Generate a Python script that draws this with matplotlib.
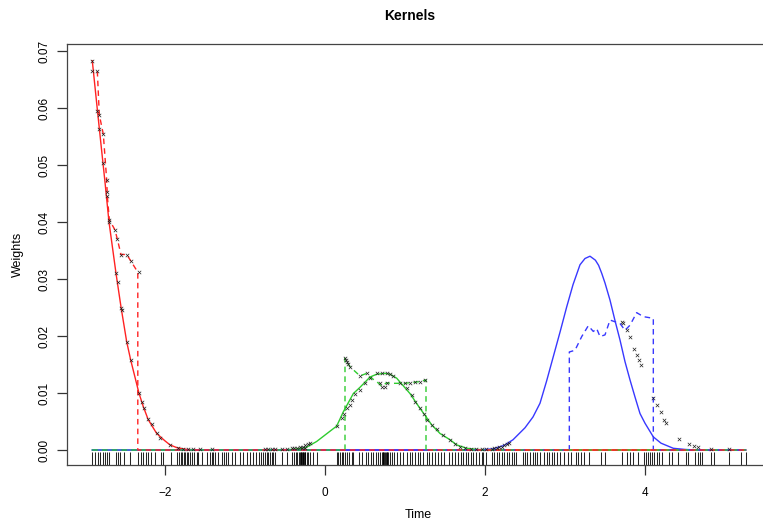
import matplotlib
matplotlib.use("Agg")
import matplotlib.pyplot as plt
import matplotlib.transforms as mtransforms

plt.rcParams['font.family'] = ['Liberation Sans', 'DejaVu Sans']

# ---------------- data ----------------
rug_x = [-2.909, -2.875, -2.841, -2.8125, -2.771, -2.75, -2.729, -2.7, -2.616, -2.591,
         -2.5625, -2.509, -2.4375, -2.334, -2.3, -2.271, -2.241, -2.209, -2.175, -2.125,
         -2.05, -2.021, -1.925, -1.854, -1.825, -1.8, -1.784, -1.766, -1.75, -1.729,
         -1.709, -1.684, -1.659, -1.634, -1.604, -1.584, -1.541, -1.479, -1.4375, -1.416,
         -1.396, -1.375, -1.334,
         -1.291, -1.2625, -1.2375, -1.209, -1.166, -1.125, -1.0625, -1.029, -0.979, -0.9375,
         -0.896, -0.8625, -0.821, -0.804, -0.779, -0.75, -0.729, -0.709, -0.6875, -0.666,
         -0.646, -0.625, -0.541, -0.479, -0.416, -0.3875, -0.3625, -0.346, -0.329, -0.3125,
         -0.305, -0.296, -0.288, -0.279, -0.27, -0.2625, -0.255, -0.246, -0.229, -0.209,
         -0.1875, -0.146, -0.104, 0.146, 0.166, 0.1875, 0.209, 0.229, 0.25, 0.271, 0.304,
         0.334, 0.354,
         0.425, 0.466, 0.509, 0.541, 0.575, 0.604, 0.634, 0.666, 0.6875, 0.709, 0.72,
         0.729, 0.74, 0.75, 0.76, 0.771, 0.78, 0.791, 0.8125, 0.834, 0.866, 0.896, 0.9375,
         0.979, 1.021, 1.0625, 1.091, 1.125, 1.159, 1.1875, 1.229, 1.271, 1.3, 1.341, 1.375,
         1.409, 1.45, 1.491, 1.55, 1.591, 1.625, 1.666, 1.7, 1.729, 1.759, 1.791, 1.825,
         1.854, 1.884, 1.925, 1.959, 1.979, 2.009,
         2.084, 2.1125, 2.146, 2.179, 2.209, 2.2375, 2.271, 2.304, 2.334, 2.3625, 2.3875,
         2.471, 2.5, 2.529, 2.5625, 2.596, 2.625, 2.654, 2.6875, 2.7375, 2.771, 2.804,
         2.834, 2.8625, 2.896, 2.9375, 2.9875, 3.041, 3.071, 3.1375, 3.166, 3.196, 3.2375,
         3.304, 3.446, 3.5, 3.709,
         3.771, 3.8125, 3.854, 3.909, 3.991, 4.009, 4.034, 4.0625, 4.091, 4.116, 4.146,
         4.175, 4.209, 4.3, 4.341, 4.409, 4.509, 4.534, 4.625, 4.659, 4.6875, 4.716, 4.825,
         4.866, 5.05, 5.2, 5.259]

# solid kernel curves
red_x = [-2.909, -2.85, -2.80, -2.75, -2.70, -2.6125, -2.55, -2.479, -2.429, -2.325,
         -2.271, -2.209, -2.104, -2.0, -1.9375, -1.85, -1.729, -1.6, 5.259]
red_y = [0.0683, 0.0603, 0.0536, 0.0470, 0.0400, 0.0310, 0.0251, 0.0190, 0.0158, 0.00995,
         0.0076, 0.0053, 0.0029, 0.0016, 0.0009, 0.0004, 0.0001, 0.0, 0.0]

green_x = [-2.909, -0.6, -0.416, -0.3, -0.229, -0.104, 0.146, 0.229, 0.354, 0.4375, 0.5625,
           0.646, 0.75, 0.8125, 0.896, 1.0625, 1.1875, 1.25, 1.334, 1.4375, 1.5625, 1.646,
           1.771, 1.9, 2.1, 5.259]
green_y = [0.0, 0.0, 0.0001, 0.0003, 0.0005, 0.0015, 0.0042, 0.0067, 0.0099, 0.0110, 0.0128,
           0.0133, 0.01345, 0.0133, 0.0126, 0.0099, 0.0073, 0.0061, 0.0044, 0.0029, 0.0018,
           0.0009, 0.0003, 0.0001, 0.0, 0.0]

blue_x = [-2.909, 1.9, 2.1, 2.2375, 2.35, 2.5, 2.6, 2.6875, 2.77, 2.854, 2.94, 3.021, 3.1,
          3.1875, 3.25, 3.3125, 3.38, 3.42, 3.459, 3.5, 3.5625, 3.625, 3.6875, 3.75,
          3.8125, 3.875, 3.9375, 4.0, 4.104, 4.2, 4.354, 4.5, 4.646, 5.259]
blue_y = [0.0, 0.0, 0.0002, 0.0008, 0.0018, 0.0039, 0.0058, 0.0082, 0.0121, 0.0164, 0.0208,
          0.0251, 0.0290, 0.0325, 0.0336, 0.0340, 0.0333, 0.0324, 0.0310, 0.0293, 0.0263,
          0.0227, 0.0193, 0.0155, 0.0123, 0.0093, 0.0064, 0.0047, 0.0023, 0.0012, 0.0003,
          0.0001, 0.0, 0.0]

# dashed (windowed) curves
red_d_x = [-2.846, -2.821, -2.771, -2.729, -2.721, -2.696, -2.625, -2.596, -2.55, -2.479,
           -2.429, -2.34, -2.34, 5.259]
red_d_y = [0.0665, 0.0588, 0.0554, 0.0474, 0.0446, 0.0404, 0.0386, 0.0370, 0.0343, 0.0343,
           0.0332, 0.0312, 0.0, 0.0]

green_d_x = [-2.909, 0.25, 0.25, 0.271, 0.3125, 0.4375, 0.521, 0.5625, 0.646, 0.709, 0.771,
             0.8125, 0.9375, 1.0, 1.0625, 1.125, 1.1875, 1.2625, 1.2625, 5.259]
green_d_y = [0.0, 0.0, 0.0161, 0.0155, 0.0146, 0.0130, 0.01345, 0.0128, 0.0120, 0.0112,
             0.0118, 0.0117, 0.0117, 0.0117, 0.0118, 0.0119, 0.0120, 0.0123, 0.0, 0.0]

blue_d_x = [-2.909, 3.054, 3.054, 3.125, 3.209, 3.291, 3.354, 3.396, 3.4375, 3.5, 3.5625,
            3.625, 3.6875, 3.75, 3.8125, 3.896, 3.979, 4.104, 4.104, 5.259]
blue_d_y = [0.0, 0.0, 0.0172, 0.0175, 0.0199, 0.0218, 0.0208, 0.0213, 0.0199, 0.0202,
            0.0228, 0.0225, 0.0222, 0.0210, 0.0219, 0.0241, 0.0234, 0.0231, 0.0, 0.0]

# black "x" points
pts_x = [-2.909, -2.909, -2.846, -2.846, -2.821, -2.821, -2.771, -2.771, -2.729, -2.729,
         -2.721, -2.696, -2.7, -2.625, -2.596, -2.6125, -2.591, -2.55, -2.479, -2.429,
         -2.325, -2.55, -2.54, -2.479, -2.429, -2.325, -2.291, -2.2625, -2.209, -2.166,
         -2.104, -2.0625, -1.9375, -1.834, -1.771, -1.709, -1.646, -1.5625, -1.416,
         -0.75, -0.709, -0.666, -0.625, -0.541, -0.479, -0.416, -0.3875, -0.346, -0.3125,
         -0.291, -0.279, -0.25, -0.246, -0.209, -0.1875,
         0.146, 0.209, 0.2375, 0.271, 0.3125, 0.334, 0.375, 0.4375, 0.5, 0.5625,
         0.25, 0.26, 0.271, 0.291, 0.3125, 0.4375, 0.521,
         0.646, 0.709, 0.771, 0.8125, 0.854, 0.6875, 0.709, 0.75, 0.779,
         0.9375, 1.0, 1.0625, 1.125, 1.1875, 1.25,
         1.021, 1.084, 1.125, 1.1875, 1.2375, 1.279, 1.334, 1.396, 1.479, 1.5625, 1.625,
         1.6875, 1.75, 1.825, 1.884, 1.959, 2.009,
         2.084, 2.1125, 2.146, 2.179, 2.209, 2.2375, 2.271, 2.304,
         3.709, 3.72, 3.771, 3.8125, 3.866, 3.896, 3.921, 3.946, 4.104, 4.146, 4.196,
         4.2375, 4.2625, 4.429, 4.554, 4.6125, 4.666, 4.825, 5.05]
pts_y = [0.0683, 0.0665, 0.0665, 0.0595, 0.0588, 0.0564, 0.0554, 0.0503, 0.0474, 0.0453,
         0.0446, 0.0404, 0.0400, 0.0386, 0.0370, 0.0310, 0.0294, 0.0343, 0.0343, 0.0332,
         0.0312, 0.0250, 0.0245, 0.0190, 0.0158, 0.00995, 0.0085, 0.0073, 0.0054, 0.0046,
         0.0029, 0.0021, 0.0009, 0.0003, 0.0001, 0.0001, 0.0001, 0.0001, 0.0001,
         0.0001, 0.0001, 0.0001, 0.0001, 0.0002, 0.0002, 0.0003, 0.0003, 0.0004, 0.0005,
         0.0003, 0.0006, 0.0004, 0.0008, 0.0010, 0.0012,
         0.0042, 0.0056, 0.0064, 0.0073, 0.0079, 0.0088, 0.0099, 0.0106, 0.0117, 0.0126,
         0.0161, 0.0158, 0.0155, 0.0151, 0.0146, 0.0130, 0.01345,
         0.01345, 0.01357, 0.01345, 0.0133, 0.0129, 0.0117, 0.0111, 0.0111, 0.0118,
         0.0117, 0.0117, 0.0118, 0.0119, 0.0120, 0.0123,
         0.0108, 0.0096, 0.0085, 0.0073, 0.0063, 0.0053, 0.0044, 0.0036, 0.0026, 0.0018,
         0.0011, 0.0006, 0.0003, 0.0002, 0.0002, 0.0001, 0.0001,
         0.0002, 0.0003, 0.0004, 0.0005, 0.0006, 0.0008, 0.0010, 0.0013,
         0.0225, 0.0222, 0.0211, 0.0198, 0.0177, 0.0167, 0.0158, 0.0149, 0.0091, 0.0079,
         0.0066, 0.0053, 0.0048, 0.0019, 0.0011, 0.0007, 0.0005, 0.0001, 0.0001]

x_ticks = [-2, 0, 2, 4]
x_tick_labels = ["\u22122", "0", "2", "4"]
y_ticks = [0.00, 0.01, 0.02, 0.03, 0.04, 0.05, 0.06, 0.07]
y_tick_labels = ["0.00", "0.01", "0.02", "0.03", "0.04", "0.05", "0.06", "0.07"]

# ---------------- figure ----------------
W, H = 763, 526
fig = plt.figure(figsize=(W / 100, H / 100), dpi=100)
L, R, T, B = 67, 772, 44, 465
ax = fig.add_axes([L / W, (H - B) / H, (R - L) / W, (B - T) / H])

RED, GREEN, BLUE = "#FF2222", "#2ECC2E", "#3838FF"
DASH = (0, (4, 3))

ax.plot(green_x, green_y, color=GREEN, lw=1.0, zorder=3)
ax.plot(red_x, red_y, color=RED, lw=1.0, zorder=3.1)
ax.plot(blue_x, blue_y, color=BLUE, lw=1.0, zorder=3.2)
ax.plot(blue_d_x, blue_d_y, color=BLUE, lw=1.0, ls=DASH, zorder=4)
ax.plot(green_d_x, green_d_y, color=GREEN, lw=1.0, ls=DASH, zorder=4.1)
ax.plot(red_d_x, red_d_y, color=RED, lw=1.0, ls=DASH, zorder=4.2)

ax.scatter(pts_x, pts_y, marker="x", s=6, color="#222222", lw=0.5, zorder=5)

# rug
trans = mtransforms.blended_transform_factory(ax.transData, ax.transAxes)
for xv in rug_x:
    ax.plot([xv, xv], [0, 0.031], color="black", lw=0.75, alpha=0.85,
            transform=trans, zorder=2, solid_capstyle="butt")

ax.set_xlim(-3.225, 5.5875)
ax.set_ylim(-0.00263, 0.07123)

ax.set_xticks(x_ticks)
ax.set_xticklabels(x_tick_labels)
ax.set_yticks(y_ticks)
ax.set_yticklabels(y_tick_labels, rotation=90, va="center")
ax.tick_params(direction="out", length=7, width=0.9, labelsize=8.5, color="#333333")
ax.tick_params(axis="x", pad=8.5)
ax.tick_params(axis="y", pad=5)
for s in ax.spines.values():
    s.set_linewidth(0.9)
    s.set_color("#444444")

fig.text(410 / W, 1 - 16 / H, "Kernels", ha="center", va="center",
         fontsize=10, fontweight="bold")
fig.text(418 / W, 1 - 515 / H, "Time", ha="center", va="center", fontsize=9)
fig.text(18 / W, 1 - 254 / H, "Weights", ha="center", va="center", fontsize=9,
         rotation=90)

fig.savefig("out.png", dpi=100)
